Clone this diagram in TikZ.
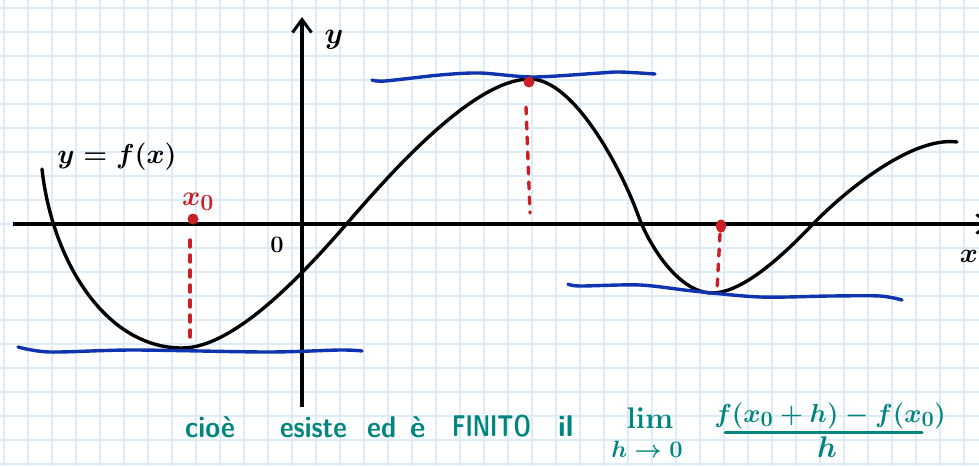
\documentclass[tikz,border=0pt]{standalone}
\usepackage{graphicx}
\usetikzlibrary{arrows.meta}
\definecolor{gridblue}{RGB}{221,236,249}
\definecolor{penblue}{RGB}{14,52,176}
\definecolor{penred}{RGB}{200,32,36}
\definecolor{penteal}{RGB}{0,134,126}
\newcommand{\mth}[2]{\scalebox{#1}{\Huge\boldmath$#2$}}
\newcommand{\wrd}[2]{\scalebox{#1}[1]{#2}}
\tikzset{
  gridline/.style={gridblue, line width=1.8pt},
  axis/.style={black, line width=3.2pt, -{Straight Barb[length=13pt,width=19pt,line width=3pt]}},
  curve/.style={black, line width=3.4pt, line cap=round, line join=round},
  tangent/.style={penblue, line width=3.4pt, line cap=round, line join=round},
  drop/.style={penred, line width=3.4pt, line cap=round, dash pattern=on 7pt off 8pt},
  dot/.style={penred},
  blacklbl/.style={black, inner sep=0pt},
  redlbl/.style={penred, inner sep=0pt},
  tealtxt/.style={penteal, inner sep=0pt, font=\sffamily\bfseries\fontsize{30}{32}\selectfont},
  tealmath/.style={penteal, inner sep=0pt},
}
\begin{document}
\begin{tikzpicture}[x=1pt,y=-1pt]
\useasboundingbox (0,0) rectangle (979,466);
\fill[white] (0,0) rectangle (979,466);
% grid paper
\foreach \gx in {0,...,40} \draw[gridline] ({4+24*\gx},0) -- ({4+24*\gx},466);
\foreach \gy in {0,...,19} \draw[gridline] (0,{8+24*\gy}) -- (979,{8+24*\gy});
% axes
\coordinate (xstart) at (13,224);
\coordinate (xend) at (992,224);
\coordinate (ystart) at (302,407);
\coordinate (yend) at (302,17);
\draw[axis] (xstart) -- (xend);
\draw[axis] (ystart) -- (yend);
\node[blacklbl, anchor=base] (ylab) at (334,43) {\mth{1.2}{y}};
\node[blacklbl, anchor=base east] (xlab) at (978,262) {\mth{1.1}{x}};
\node[blacklbl, anchor=base] (origin) at (277,252) {\mth{0.95}{0}};
% function graph
\coordinate (c0) at (42,169);
\coordinate (c1) at (182,348);
\coordinate (c2) at (350,220);
\coordinate (c3) at (530,79);
\coordinate (c4) at (638,215);
\coordinate (c5) at (712,293);
\coordinate (c6) at (813,224);
\coordinate (c7) at (957,142);
\draw[curve] (c0) .. controls (52,260) and (105,348) .. (c1)
  .. controls (235,348) and (305,272) .. (c2)
  .. controls (395,168) and (475,79) .. (c3)
  .. controls (575,79) and (623,173) .. (c4)
  .. controls (650,248) and (680,293) .. (c5)
  .. controls (745,293) and (789,249) .. (c6)
  .. controls (841,195) and (910,136) .. (c7);
\node[blacklbl, anchor=base] (flab) at (117,163) {\mth{1.1}{y=f(x)}};
% horizontal tangents
\draw[tangent] plot[smooth, tension=0.5] coordinates {
 (18,347) (50,352) (133,350) (267,352) (340,350) (362,351)};
\draw[tangent] plot[smooth, tension=0.5] coordinates {
 (372,80) (385,81) (440,75) (480,73) (533,77) (600,73) (620,72) (655,74)};
\draw[tangent] plot[smooth, tension=0.5] coordinates {
 (568,284) (580,286) (640,285) (693,291) (760,297) (830,296) (880,296) (902,300)};
% red drops
\coordinate (d1a) at (190,240); \coordinate (d1b) at (190,343);
\coordinate (d2a) at (526,107); \coordinate (d2b) at (530,213);
\coordinate (d3a) at (720,234); \coordinate (d3b) at (717,290);
\draw[drop] (d1a) -- (d1b);
\draw[drop] (d2a) -- (d2b);
\draw[drop] (d3a) -- (d3b);
\fill[dot] (193,219) circle (5.5pt);
\fill[dot] (529,82) circle (5.5pt);
\fill[dot] (721,226) ellipse (5pt and 6.5pt);
\node[redlbl] (x0lab) at (198,202) {\mth{1.12}{x_0}};
% bottom sentence
\node[tealtxt, anchor=base west] (w1) at (185,437) {\wrd{0.9}{cioè}};
\node[tealtxt, anchor=base west] (w2) at (280,437) {\wrd{0.88}{esiste}};
\node[tealtxt, anchor=base west] (w3) at (367,437) {\wrd{0.9}{ed}};
\node[tealtxt, anchor=base west] (w4) at (410,437) {è};
\node[tealtxt, anchor=base west] (w5) at (452,436) {\wrd{0.73}{FINITO}};
\node[tealtxt, anchor=base west] (w6) at (558,436) {il};
\node[tealmath, anchor=base] (lim) at (650,428) {\mth{1.2}{\mathrm{lim}}};
\node[tealmath, anchor=base] (hto) at (647,457) {\mth{0.95}{h\to 0}};
\node[tealmath, anchor=base] (num) at (830,422) {\mth{1.05}{f(x_0+h)-f(x_0)}};
\coordinate (barL) at (725,432); \coordinate (barR) at (922,432);
\draw[penteal, line width=3pt, line cap=round] (barL) -- (barR);
\node[tealmath, anchor=base] (den) at (827,457) {\mth{1.2}{h}};
\end{tikzpicture}
\end{document}
